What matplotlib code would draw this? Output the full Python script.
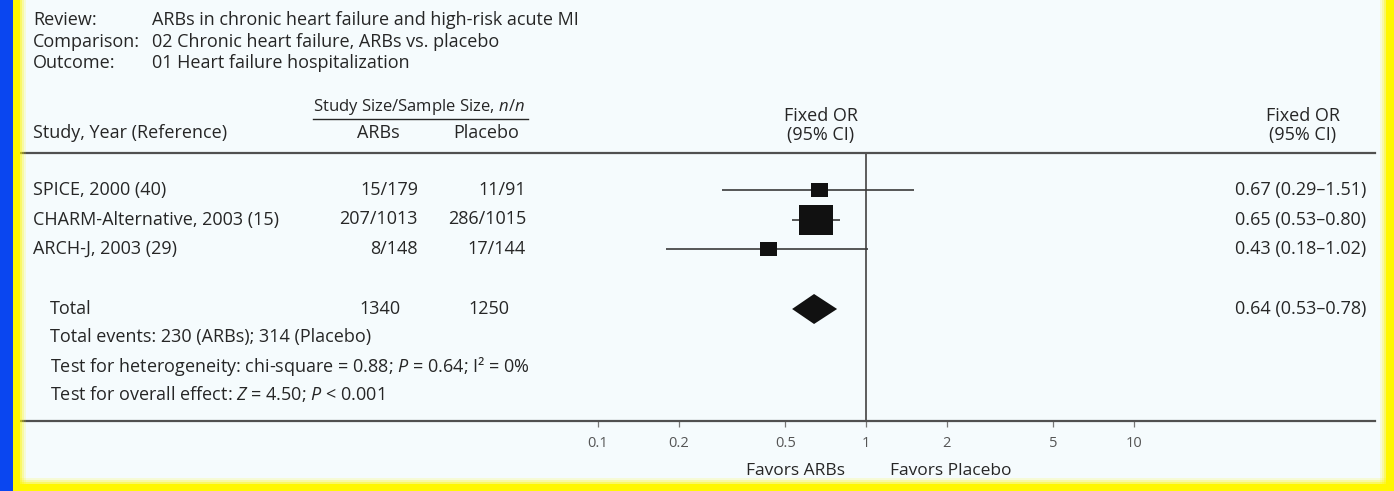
import matplotlib
matplotlib.use("Agg")
import matplotlib.pyplot as plt
from matplotlib.patches import Rectangle, Polygon
from matplotlib.path import Path
from matplotlib.ticker import FixedLocator, FixedFormatter, NullLocator

# ---- data -----------------------------------------------------------------
studies = ["SPICE, 2000 (40)", "CHARM-Alternative, 2003 (15)", "ARCH-J, 2003 (29)"]
arb_events = [15, 207, 8]
arb_total = [179, 1013, 148]
placebo_events = [11, 286, 17]
placebo_total = [91, 1015, 144]
odds_ratio = [0.67, 0.65, 0.43]
ci_low = [0.29, 0.53, 0.18]
ci_high = [1.51, 0.80, 1.02]

pooled_or = 0.64
pooled_low = 0.53
pooled_high = 0.78
pooled_arb_n = 1340
pooled_placebo_n = 1250
pooled_arb_events = 230
pooled_placebo_events = 314

tick_values = [0.1, 0.2, 0.5, 1, 2, 5, 10]
tick_labels = ["0.1", "0.2", "0.5", "1", "2", "5", "10"]

# ---- style ----------------------------------------------------------------
W, H = 1394, 491
DPI = 100
BG = "#f5fbfd"
INK = "#262626"
GRID_INK = "#505050"
YELLOW = "#fff700"
FONT = "Open Sans"
FS = 13
square_px = [17, 34, 17]   # marker sizes (weights) in pixels

plt.rcParams["font.family"] = [FONT, "DejaVu Sans"]
plt.rcParams["mathtext.fontset"] = "custom"
plt.rcParams["mathtext.rm"] = FONT
plt.rcParams["mathtext.it"] = FONT + ":italic"
plt.rcParams["mathtext.bf"] = FONT + ":bold"

fig = plt.figure(figsize=(W / DPI, H / DPI), dpi=DPI, facecolor=BG)


def fx(x):
    return x / W


def fy(y):
    return 1 - y / H


def put(x, y, s, ha="left", size=FS, color=INK, **kw):
    fig.text(fx(x), fy(y), s, ha=ha, va="center", fontsize=size, color=color, **kw)


def band(x0, y0, x1, y1, color, alpha=1.0, z=4):
    """Rectangle given by pixel corners (top-left origin)."""
    fig.patches.append(Rectangle((fx(x0), fy(y1)), fx(x1 - x0), (y1 - y0) / H,
                                 transform=fig.transFigure, facecolor=color,
                                 alpha=alpha, edgecolor="none", zorder=z))


# ---- frame: blue strip and yellow border ----------------------------------
fades = [0.6, 0.35, 0.15]
band(13, 0, 20, H, YELLOW)
for i, a in enumerate(fades):
    band(20 + 2 * i, 0, 22 + 2 * i, H, YELLOW, a)
band(1386, 0, W, H, YELLOW)
for i, a in enumerate(fades):
    band(1384 - 2 * i, 0, 1386 - 2 * i, H, YELLOW, a)
band(13, 484, W, H, YELLOW)
for i, a in enumerate(fades):
    band(13, 482 - 2 * i, W, 484 - 2 * i, YELLOW, a)
band(0, 0, 13, H, "#0a46f0", z=5)

# ---- review header --------------------------------------------------------
put(33, 20, "Review:")
put(152, 20, "ARBs in chronic heart failure and high-risk acute MI")
put(33, 42, "Comparison:")
put(152, 42, "02 Chronic heart failure, ARBs vs. placebo")
put(33, 63, "Outcome:")
put(152, 63, "01 Heart failure hospitalization")

# ---- column headers -------------------------------------------------------
put(313, 107, r"Study Size/Sample Size, $n/n$", size=12)
fig.add_artist(plt.Line2D([fx(313), fx(528)], [fy(119), fy(119)], color=INK, lw=1.0))
put(33, 133, "Study, Year (Reference)")
put(378, 133, "ARBs", ha="center")
put(486, 133, "Placebo", ha="center")
put(821, 116, "Fixed OR", ha="center")
put(821, 135, "(95% CI)", ha="center")
put(1303, 116, "Fixed OR", ha="center")
put(1303, 135, "(95% CI)", ha="center")

# ---- forest axes ----------------------------------------------------------
top_px, bottom_px, left_px, right_px = 153, 421, 20, 1375
null_px, decade_px = 866, 268
ax = fig.add_axes([fx(left_px), fy(bottom_px), fx(right_px - left_px),
                   (bottom_px - top_px) / H])
ax.set_facecolor("none")
ax.set_xscale("log")
ax.set_xlim(10 ** (-(null_px - left_px) / decade_px), 10 ** ((right_px - null_px) / decade_px))
ax.set_ylim(bottom_px, top_px)
for side in ("left", "right"):
    ax.spines[side].set_visible(False)
for side in ("top", "bottom"):
    ax.spines[side].set_color(GRID_INK)
    ax.spines[side].set_linewidth(1.6)
ax.yaxis.set_major_locator(NullLocator())
ax.xaxis.set_major_locator(FixedLocator(tick_values))
ax.xaxis.set_major_formatter(FixedFormatter(tick_labels))
ax.xaxis.set_minor_locator(NullLocator())
ax.tick_params(axis="x", length=4, width=0.9, color="#777777", labelsize=10.5,
               labelcolor="#555555", pad=7)

ax.axvline(1, color=GRID_INK, lw=1.3, zorder=1)

row_first, row_step = 190, 29.5
rows = [row_first + i * row_step for i in range(len(studies))]
rect_marker = Path([(-0.58, -0.5), (0.58, -0.5), (0.58, 0.5), (-0.58, 0.5), (-0.58, -0.5)],
                   [Path.MOVETO, Path.LINETO, Path.LINETO, Path.LINETO, Path.CLOSEPOLY])
for y, o, lo, hi, s in zip(rows, odds_ratio, ci_low, ci_high, square_px):
    ax.hlines(y, lo, hi, color="#3a3a3a", lw=1.2, zorder=2)
    ax.plot(o, y, marker=rect_marker, ms=s * 72 / DPI, color="#111111",
            markeredgewidth=0, zorder=3)

pooled_y = 309
half_h = 15
ax.add_patch(Polygon([(pooled_low, pooled_y), (pooled_or, pooled_y - half_h),
                      (pooled_high, pooled_y), (pooled_or, pooled_y + half_h)],
                     closed=True, facecolor="#111111", edgecolor="none", zorder=3))

# ---- table text -----------------------------------------------------------
for y, name, ae, an, pe, pn, o, lo, hi in zip(rows, studies, arb_events, arb_total,
                                             placebo_events, placebo_total,
                                             odds_ratio, ci_low, ci_high):
    put(33, y, name)
    put(418, y, f"{ae}/{an}", ha="right")
    put(526, y, f"{pe}/{pn}", ha="right")
    put(1366, y, f"{o:.2f} ({lo:.2f}\u2013{hi:.2f})", ha="right")

put(50, pooled_y, "Total")
put(401, pooled_y, f"{pooled_arb_n}", ha="right")
put(509, pooled_y, f"{pooled_placebo_n}", ha="right")
put(1366, pooled_y, f"{pooled_or:.2f} ({pooled_low:.2f}\u2013{pooled_high:.2f})", ha="right")

put(50, 337, f"Total events: {pooled_arb_events} (ARBs); {pooled_placebo_events} (Placebo)")
put(50, 366, r"Test for heterogeneity: chi-square = 0.88; $P$ = 0.64; I² = 0%")
put(50, 394, r"Test for overall effect: $Z$ = 4.50; $P$ < 0.001")

put(845, 471, "Favors ARBs", ha="right", size=12.5)
put(890, 471, "Favors Placebo", ha="left", size=12.5)

fig.savefig("out.png", dpi=DPI, facecolor=BG)
